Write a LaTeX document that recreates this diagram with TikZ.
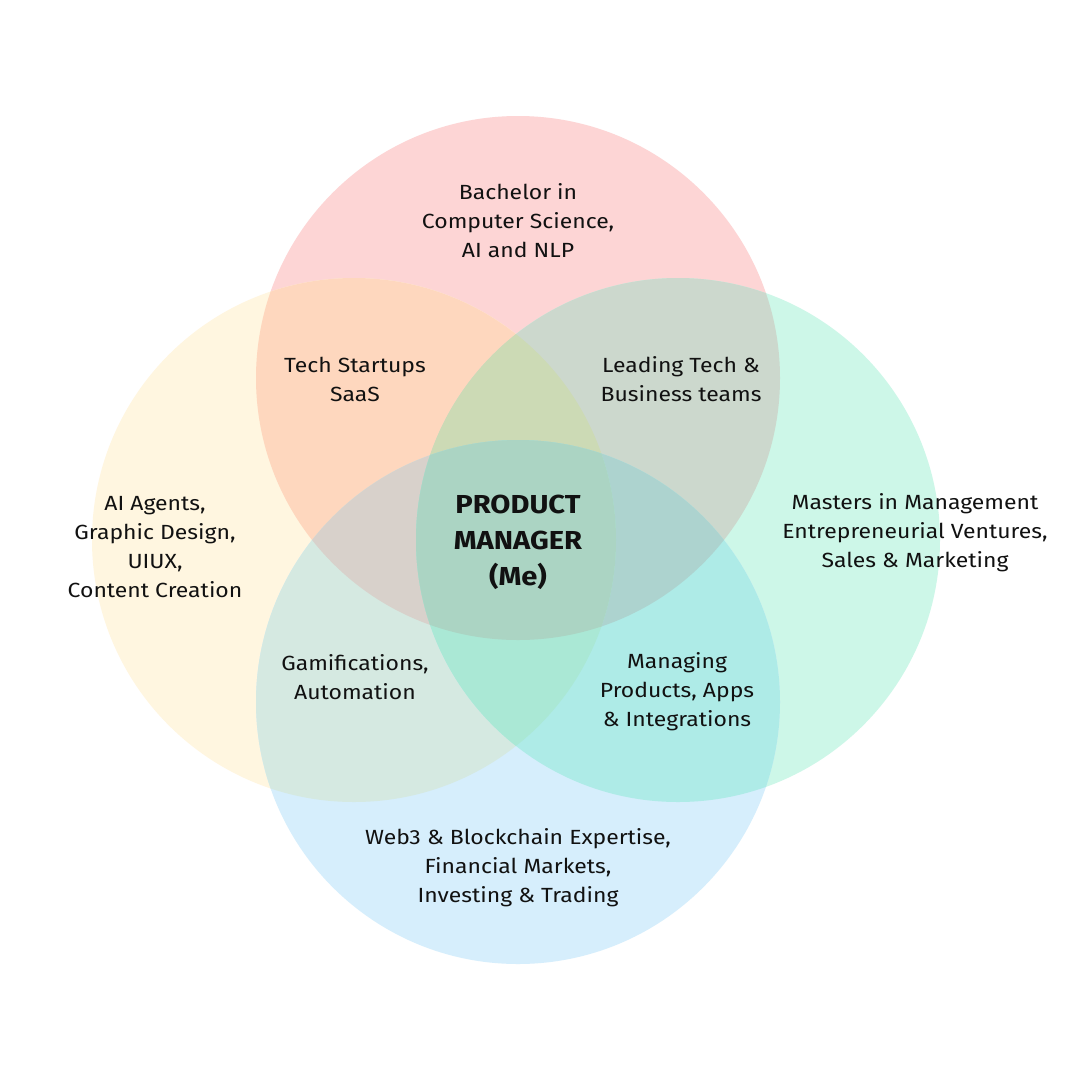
\documentclass[tikz,border=0pt]{standalone}
\usepackage{fontspec}
\setmainfont{Fira Sans}[FakeStretch=1.12]
\definecolor{cP}{HTML}{FDD5D5}
\definecolor{cY}{HTML}{FFF6E0}
\definecolor{cG}{HTML}{CDF7E8}
\definecolor{cB}{HTML}{D6EEFC}
\definecolor{cPY}{HTML}{FED7BE}
\definecolor{cPG}{HTML}{CCD8CD}
\definecolor{cYB}{HTML}{D5E9E1}
\definecolor{cGB}{HTML}{AEEBE7}
\definecolor{cPYG}{HTML}{CCDAB5}
\definecolor{cPYB}{HTML}{D8D1CB}
\definecolor{cPGB}{HTML}{ADD3CF}
\definecolor{cYGB}{HTML}{AAE8D5}
\definecolor{cAll}{HTML}{ABD4C3}
\definecolor{ink}{HTML}{111111}
\tikzset{
  lbl/.style={align=center, text=ink, inner sep=0pt, font=\fontsize{20.5}{29}\selectfont},
  core/.style={align=center, text=ink, inner sep=0pt, font=\bfseries\fontsize{26}{36}\selectfont}
}
\begin{document}
\begin{tikzpicture}[x=1pt,y=-1pt]
\useasboundingbox (0,0) rectangle (1080,1080);
\fill[white] (0,0) rectangle (1080,1080);
\def\cirP{(518,378) circle [radius=262pt]}
\def\cirY{(354,540) circle [radius=262pt]}
\def\cirG{(678,540) circle [radius=262pt]}
\def\cirB{(518,702) circle [radius=262pt]}
% single circles
\fill[cP] \cirP;
\fill[cY] \cirY;
\fill[cG] \cirG;
\fill[cB] \cirB;
% pairs
\begin{scope}\clip \cirP; \fill[cPY] \cirY; \end{scope}
\begin{scope}\clip \cirP; \fill[cPG] \cirG; \end{scope}
\begin{scope}\clip \cirY; \fill[cYB] \cirB; \end{scope}
\begin{scope}\clip \cirG; \fill[cGB] \cirB; \end{scope}
% triples
\begin{scope}\clip \cirP; \clip \cirY; \fill[cPYG] \cirG; \end{scope}
\begin{scope}\clip \cirP; \clip \cirY; \fill[cPYB] \cirB; \end{scope}
\begin{scope}\clip \cirP; \clip \cirG; \fill[cPGB] \cirB; \end{scope}
\begin{scope}\clip \cirY; \clip \cirG; \fill[cYGB] \cirB; \end{scope}
% all four
\begin{scope}\clip \cirP; \clip \cirY; \clip \cirG; \fill[cAll] \cirB; \end{scope}
% labels
\node[lbl] (bach) at (518,221) {Bachelor in\\Computer Science,\\AI and NLP};
\node[lbl] (tech) at (355,379.5) {Tech Startups\\SaaS};
\node[lbl] (lead) at (681,379.5) {Leading Tech \&\\Business teams};
\node[lbl] (agents) at (155,547.5) {AI Agents,\\Graphic Design,\\UIUX,\\Content Creation};
\node[core] (pm) at (518,542.5) {PRODUCT\\MANAGER\\(Me)};
\node[lbl] (mast) at (915,533) {Masters in Management\\Entrepreneurial Ventures,\\Sales \& Marketing};
\node[lbl] (gami) at (355,677.5) {Gamifications,\\Automation};
\node[lbl] (mang) at (677,692) {Managing\\Products, Apps\\\& Integrations};
\node[lbl] (web3) at (518,868) {Web3 \& Blockchain Expertise,\\Financial Markets,\\Investing \& Trading};
\end{tikzpicture}
\end{document}
